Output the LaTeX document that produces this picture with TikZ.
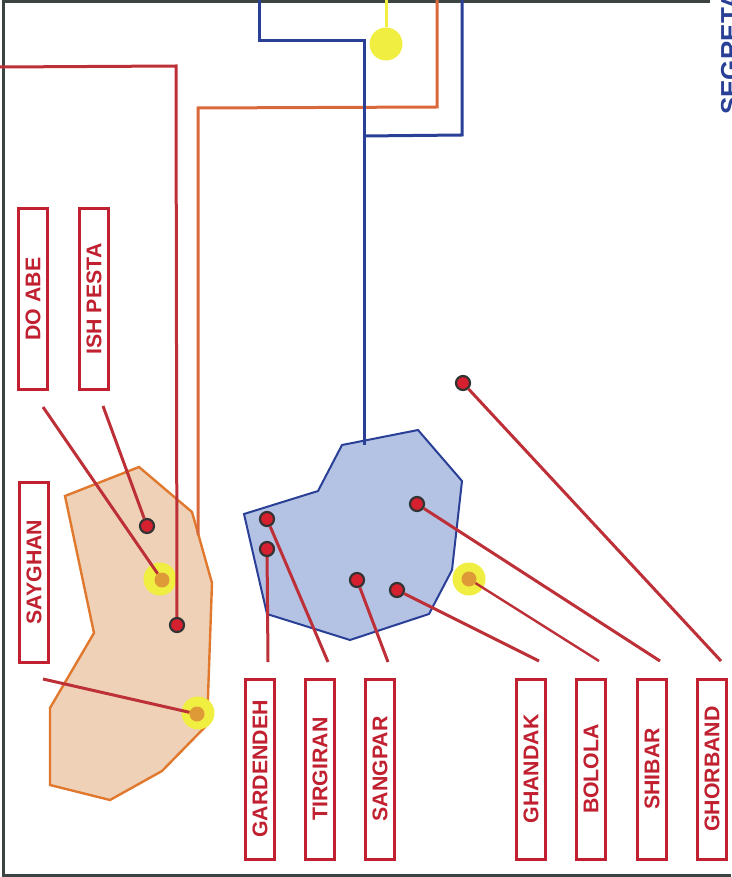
\documentclass[tikz,border=0pt]{standalone}
\usepackage{fontspec}
\setmainfont{Liberation Sans}
\definecolor{lblred}{HTML}{C0202F}
\definecolor{wire}{HTML}{BE3038}
\definecolor{orng}{HTML}{D9683A}
\definecolor{navy}{HTML}{2A3F96}
\definecolor{tanfill}{HTML}{EFD1B8}
\definecolor{tanline}{HTML}{E0782E}
\definecolor{bluefill}{HTML}{B4C2E4}
\definecolor{dotred}{HTML}{D6202F}
\definecolor{ylw}{HTML}{F0EE40}
\definecolor{dotorng}{HTML}{DF9A38}
\definecolor{framec}{HTML}{3C4442}
\tikzset{
 lbl/.style={draw=lblred,line width=3pt,fill=white,minimum width=180pt,minimum height=29pt,inner sep=0pt,rotate=90,anchor=center,text=lblred,font=\bfseries\fontsize{21.3}{23}\selectfont},
 lead/.style={draw=wire,line width=3pt},
 thinlead/.style={draw=wire,line width=2.4pt},
 reddot/.style={circle,draw=black!80,line width=2.2pt,fill=dotred,minimum size=14pt,inner sep=0pt},
 glow/.style={circle,fill=ylw,minimum size=33pt,inner sep=0pt},
 orgdot/.style={circle,fill=dotorng,minimum size=15pt,inner sep=0pt},
 route/.style={line width=3pt},
}
\begin{document}
\begin{tikzpicture}[x=1pt,y=-1pt]
\useasboundingbox (0,0) rectangle (731,877);
% frame
\draw[framec,line width=3pt] (710,2) -- (3.5,2) -- (3.5,875) -- (731,875);
% regions
\draw[fill=tanfill,draw=tanline,line width=2.4pt] (65,496) -- (139,467) -- (192,512) -- (212,583) -- (207,725) -- (162,771) -- (110,800) -- (50,785) -- (50,708) -- (94,633) -- cycle;
\draw[fill=bluefill,draw=navy,line width=2pt] (244,514) -- (318,491) -- (342,445) -- (418,430) -- (462,481) -- (452,570) -- (429,614) -- (350,640) -- (267,614) -- cycle;
% glow dots
\node[glow] (gs1) at (160,579) {};
\node[orgdot] (os1) at (162,580) {};
\node[glow] (gs2) at (198,713) {};
\node[orgdot] (os2) at (197,714) {};
\node[glow] (gb) at (469,579) {};
\node[orgdot] (ob) at (469,579) {};
\node[glow] (gtop) at (386,44) {};
% red dots
\node[reddot] (ish) at (147,526) {};
\node[reddot] (cent) at (177,625) {};
\node[reddot] (gar) at (267,549) {};
\node[reddot] (tir) at (267,519) {};
\node[reddot] (san) at (357,580) {};
\node[reddot] (gha) at (397,590) {};
\node[reddot] (shi) at (417,504) {};
\node[reddot] (gho) at (463,383) {};
% free line ends
\coordinate (eDo) at (43,407);
\coordinate (eIsh) at (103,406);
\coordinate (eSay) at (43,679);
\coordinate (eGar) at (268,662);
\coordinate (eTir) at (328,662);
\coordinate (eSan) at (388,662);
\coordinate (eGha) at (539,661);
\coordinate (eBol) at (599,661);
\coordinate (eShi) at (660,661);
\coordinate (eGho) at (721,661);
% leaders
\draw[lead] (eDo) -- (os1);
\draw[lead] (eIsh) -- (ish);
\draw[lead] (eSay) -- (os2);
\draw[lead] (eGar) -- (gar);
\draw[lead] (eTir) -- (tir);
\draw[lead] (eSan) -- (san);
\draw[lead] (eGha) -- (gha);
\draw[thinlead] (eBol) -- (ob);
\draw[lead] (eShi) -- (shi);
\draw[lead] (eGho) -- (gho);
% routed lines
\coordinate (tl) at (0,67);
\draw[lead] (tl) -- (176,66) -- (cent);
\coordinate (oTop) at (437,0);
\coordinate (oEnd) at (198,535);
\draw[orng,route] (oTop) -- (437,107) -- (198,108) -- (oEnd);
\coordinate (bTop1) at (259,0);
\coordinate (bTop2) at (462,0);
\coordinate (bEnd) at (364,445);
\draw[navy,route] (bTop1) -- (259,41) -- (364,41) -- (bEnd);
\draw[navy,route] (bTop2) -- (462,135) -- (364,136);
\coordinate (yTop) at (386,0);
\draw[ylw,route] (yTop) -- (gtop);
% labels
\node[lbl] (nDo) at (33,299) {DO ABE};
\node[lbl] (nIsh) at (94,299) {ISH PESTA};
\node[lbl] (nSay) at (34,572) {SAYGHAN};
\node[lbl] (nGar) at (260,769) {GARDENDEH};
\node[lbl] (nTir) at (320,769) {TIRGIRAN};
\node[lbl] (nSan) at (380,769) {SANGPAR};
\node[lbl] (nGha) at (531,769) {GHANDAK};
\node[lbl] (nBol) at (591,769) {BOLOLA};
\node[lbl] (nShi) at (652,769) {SHIBAR};
\node[lbl] (nGho) at (712,769) {GHORBAND};
% heading
\begin{scope}
\clip (0,0) rectangle (731,877);
\node[rotate=90,anchor=base west,text=navy,font=\bfseries\fontsize{26}{28}\selectfont,inner sep=0pt] (sec) at (739,115) {SEGRETA};
\end{scope}
\end{tikzpicture}
\end{document}
